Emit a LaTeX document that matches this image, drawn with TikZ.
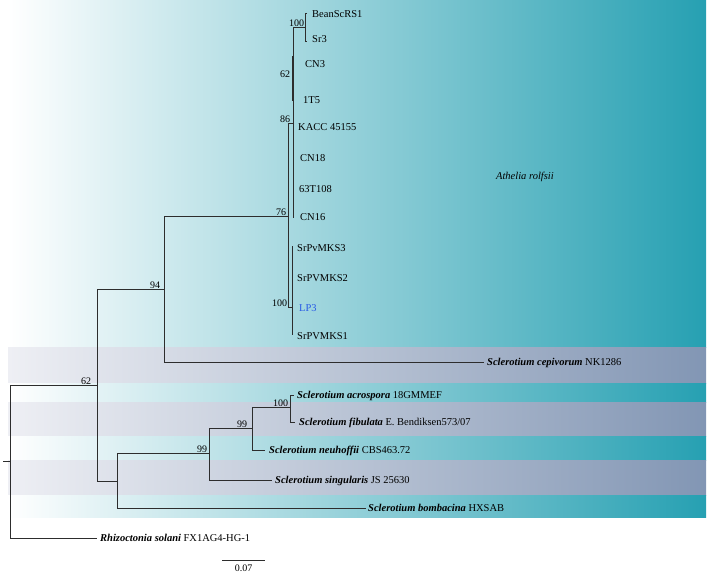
\documentclass[tikz,border=0pt]{standalone}
\usepackage{fontspec}
\setmainfont{Liberation Serif}
\definecolor{tealR}{RGB}{38,160,178}
\definecolor{greyR}{RGB}{130,150,180}
\definecolor{greyL}{RGB}{238,239,244}
\definecolor{branch}{RGB}{45,45,45}
\definecolor{lpblue}{RGB}{40,90,230}
\begin{document}
\begin{tikzpicture}[x=1pt,y=-1pt,
  br/.style={draw=branch,line width=0.9pt},
  leaf/.style={anchor=base west,inner sep=0,font=\fontsize{10.5}{12}\selectfont},
  bs/.style={anchor=south east,inner sep=0.6pt,font=\fontsize{10}{12}\selectfont},
  tealband/.style={left color=white,right color=tealR},
  greyband/.style={left color=greyL,right color=greyR}]
\useasboundingbox (0,0) rectangle (708,572);
% background bands
\shade[tealband] (8,1) rectangle (706,347);
\shade[greyband] (8,347) rectangle (706,383);
\shade[tealband] (8,383) rectangle (706,402);
\shade[greyband] (8,402) rectangle (706,436);
\shade[tealband] (8,436) rectangle (706,460);
\shade[greyband] (8,460) rectangle (706,495);
\shade[tealband] (8,495) rectangle (706,517);
% internal nodes
\coordinate (stub) at (3,461);
\coordinate (root) at (10,461);
\coordinate (n62) at (97,385);
\coordinate (n94) at (164,289);
\coordinate (n76) at (288,216);
\coordinate (n86) at (293,123);
\coordinate (n100a) at (305,27);
\coordinate (n62s) at (292.6,78);
\coordinate (n100b) at (292,307);
\coordinate (nB) at (117,481);
\coordinate (n99b) at (209,453);
\coordinate (n99a) at (252,428);
\coordinate (n100c) at (290,407);
% tips
\coordinate (tBean) at (307,13);
\coordinate (tSr3) at (307,41);
\coordinate (tCN3) at (293.5,57);
\coordinate (t1T5) at (293.5,100);
\coordinate (tKACC) at (294,127);
\coordinate (tCN18) at (294,158);
\coordinate (t63T) at (294,189);
\coordinate (tCN16) at (294,217);
\coordinate (tMKS3) at (293,246);
\coordinate (tMKS2) at (293,278);
\coordinate (tLP3) at (293,308);
\coordinate (tMKS1) at (293,334);
\coordinate (tCep) at (484,362);
\coordinate (tAcro) at (294,395);
\coordinate (tFib) at (295,422);
\coordinate (tNeu) at (265,450);
\coordinate (tSing) at (272,480);
\coordinate (tBomb) at (366,508);
\coordinate (tRhiz) at (97,538);
% branches
\draw[br] (stub) -- (root);
\draw[br] (root) |- (n62);
\draw[br] (root) |- (tRhiz);
\draw[br] (n62) |- (n94);
\draw[br] (n62) |- (nB);
\draw[br] (n94) |- (n76);
\draw[br] (n94) |- (tCep);
\draw[br] (n76) |- (n86);
\draw[br] (n76) |- (n100b);
\draw[br] (n86) |- (n100a);
\draw[br] (n86) |- (n62s);
\draw[br] (n86) |- (tKACC);
\draw[br] (n86) |- (tCN18);
\draw[br] (n86) |- (t63T);
\draw[br] (n86) |- (tCN16);
\draw[br] (n100a) |- (tBean);
\draw[br] (n100a) |- (tSr3);
\draw[br,line width=1.6pt] (n62s) |- (tCN3);
\draw[br,line width=1.6pt] (n62s) |- (t1T5);
\draw[br] (n100b) |- (tMKS3);
\draw[br] (n100b) |- (tMKS2);
\draw[br] (n100b) |- (tLP3);
\draw[br] (n100b) |- (tMKS1);
\draw[br] (nB) |- (n99b);
\draw[br] (nB) |- (tBomb);
\draw[br] (n99b) |- (n99a);
\draw[br] (n99b) |- (tSing);
\draw[br] (n99a) |- (n100c);
\draw[br] (n99a) |- (tNeu);
\draw[br] (n100c) |- (tAcro);
\draw[br] (n100c) |- (tFib);
% leaf labels
\node[leaf] (lBean) at (312,17.5) {BeanScRS1};
\node[leaf] (lSr3) at (312,42.5) {Sr3};
\node[leaf] (lCN3) at (305,67.5) {CN3};
\node[leaf] (l1T5) at (303,103.5) {1T5};
\node[leaf] (lKACC) at (298,130.5) {KACC 45155};
\node[leaf] (lCN18) at (300,161.5) {CN18};
\node[leaf] (l63T) at (299,192.5) {63T108};
\node[leaf] (lCN16) at (300,220.5) {CN16};
\node[leaf] (lMKS3) at (297,251.5) {SrPvMKS3};
\node[leaf] (lMKS2) at (297,281.5) {SrPVMKS2};
\node[leaf,text=lpblue] (lLP3) at (299,311.5) {LP3};
\node[leaf] (lMKS1) at (297,339.5) {SrPVMKS1};
\node[leaf] (lCep) at (487,365.5) {\textbf{\textit{Sclerotium cepivorum}} NK1286};
\node[leaf] (lAcro) at (297,398.5) {\textbf{\textit{Sclerotium acrospora}} 18GMMEF};
\node[leaf] (lFib) at (299,425.5) {\textbf{\textit{Sclerotium fibulata}} E. Bendiksen573/07};
\node[leaf] (lNeu) at (269,453.5) {\textbf{\textit{Sclerotium neuhoffii}} CBS463.72};
\node[leaf] (lSing) at (275,483.5) {\textbf{\textit{Sclerotium singularis}} JS 25630};
\node[leaf] (lBomb) at (368,511.5) {\textbf{\textit{Sclerotium bombacina}} HXSAB};
\node[leaf] (lRhiz) at (100,541.5) {\textbf{\textit{Rhizoctonia solani}} FX1AG4-HG-1};
\node[anchor=base east,inner sep=0,font=\fontsize{10.5}{12}\selectfont\itshape] (clade) at (554,179.5) {Athelia rolfsii};
% support values
\node[bs] (b100a) at (305,27) {100};
\node[bs] (b62s) at (291,78) {62};
\node[bs] (b86) at (291,123) {86};
\node[bs] (b76) at (287,216) {76};
\node[bs] (b100b) at (288,307) {100};
\node[bs] (b94) at (161,289) {94};
\node[bs] (b62) at (92,385) {62};
\node[bs] (b99a) at (248,428) {99};
\node[bs] (b100c) at (289,407) {100};
\node[bs] (b99b) at (208,453) {99};
% scale bar
\coordinate (sb1) at (222,560);
\coordinate (sb2) at (265,560);
\draw[br] (sb1) -- (sb2);
\node[anchor=base,inner sep=0,font=\fontsize{10}{12}\selectfont] (sbl) at (243.5,571) {0.07};
\end{tikzpicture}
\end{document}
